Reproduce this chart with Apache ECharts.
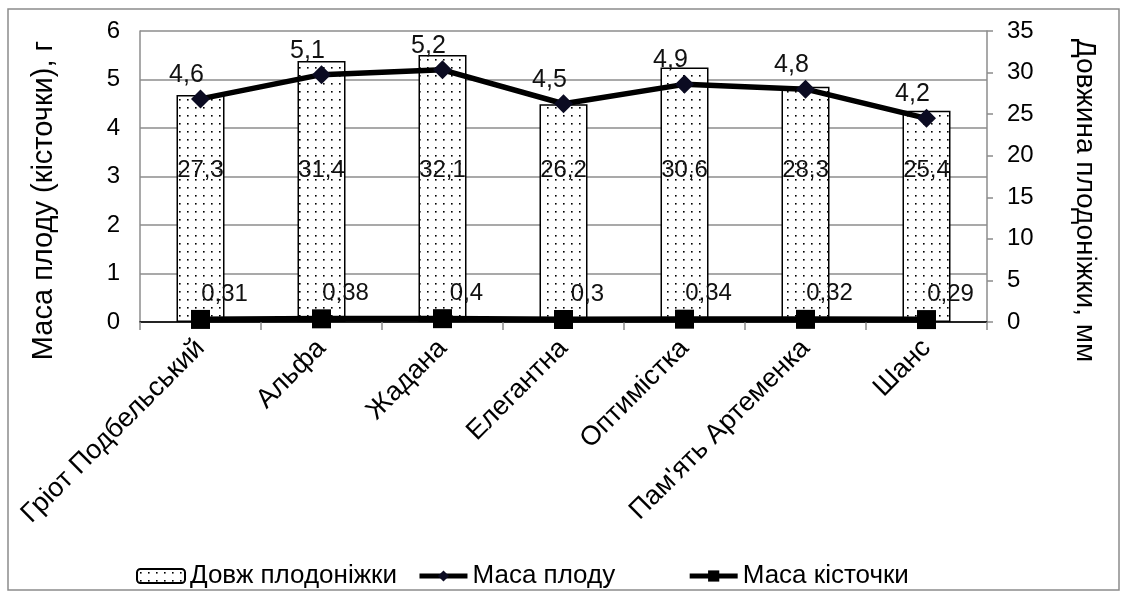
<!DOCTYPE html>
<html><head><meta charset="utf-8">
<script src="https://cdn.jsdelivr.net/npm/echarts@6/dist/echarts.min.js"></script>
<style>html,body{margin:0;padding:0;background:#fff}#c{width:1126px;height:594px}</style>
</head><body><div id="c"></div>
<script>
const categories = ['Гріот Подбельський','Альфа','Жадана','Елегантна','Оптимістка',"Пам'ять Артеменка",'Шанс'];
const stemLength = [27.3, 31.4, 32.1, 26.2, 30.6, 28.3, 25.4];
const fruitMass = [4.6, 5.1, 5.2, 4.5, 4.9, 4.8, 4.2];
const stoneMass = [0.31, 0.38, 0.4, 0.3, 0.34, 0.32, 0.29];
const seriesNames = ['Довж плодоніжки', 'Маса плоду', 'Маса кісточки'];
const leftTicks = {min: 0, max: 6, interval: 1};
const rightTicks = {min: 0, max: 35, interval: 5};

const pc = document.createElement('canvas');
pc.width = 8; pc.height = 8;
const g = pc.getContext('2d');
g.fillStyle = '#fff'; g.fillRect(0,0,8,8);
g.fillStyle = '#000'; g.fillRect(3,3,1.6,1.6);

const FONT = '"Liberation Sans", Arial, sans-serif';
const fmt = v => String(v).replace('.', ',');
const chart = echarts.init(document.getElementById('c'));
chart.setOption({
  animation: false,
  backgroundColor: '#fff',
  textStyle: {fontFamily: FONT, color: '#000'},
  graphic: [{type: 'rect', shape: {x: 8, y: 9, width: 1111, height: 581}, style: {fill: 'none', stroke: '#8c8c8c', lineWidth: 1.5}, z: -1}],
  grid: {left: 140, right: 139, top: 31, bottom: 272},
  legend: {
    bottom: 0, left: 131, itemWidth: 48, itemHeight: 14, itemGap: 20,
    textStyle: {fontSize: 26, fontFamily: FONT, color: '#000'},
    lineStyle: {width: 5},
    formatter: name => name === seriesNames[1] ? name + '\u2003\u2003' : name,
    data: seriesNames
  },
  xAxis: [{
    type: 'category', data: categories, boundaryGap: true,
    axisLine: {lineStyle: {color: '#8c8c8c', width: 1.5}},
    axisTick: {show: true, alignWithLabel: false, length: 8, lineStyle: {color: '#8c8c8c', width: 1.5}},
    axisLabel: {rotate: 45, fontSize: 27, color: '#000', margin: 22, interval: 0, fontFamily: FONT}
  }, {
    type: 'category', data: categories, position: 'top',
    axisLine: {lineStyle: {color: '#000', width: 1.5}},
    axisTick: {show: false}, axisLabel: {show: false}
  }],
  yAxis: [{
    type: 'value', min: leftTicks.min, max: leftTicks.max, interval: leftTicks.interval,
    name: 'Маса плоду (кісточки), г', nameLocation: 'middle', nameGap: 82, nameRotate: 90,
    nameTextStyle: {fontSize: 29, color: '#000', fontFamily: FONT, padding: [0, 48, 0, 0]},
    axisLine: {show: true, lineStyle: {color: '#8c8c8c', width: 1.5}},
    axisTick: {show: false},
    axisLabel: {fontSize: 24, color: '#000', margin: 20, fontFamily: FONT},
    splitLine: {lineStyle: {color: '#8c8c8c', width: 1.5}}
  }, {
    type: 'value', min: rightTicks.min, max: rightTicks.max, interval: rightTicks.interval,
    name: 'Довжина плодоніжки, мм', nameLocation: 'middle', nameGap: 84, nameRotate: -90,
    nameTextStyle: {fontSize: 28, color: '#000', fontFamily: FONT, padding: [0, 0, 0, 48]},
    axisLine: {show: true, lineStyle: {color: '#8c8c8c', width: 1.5}},
    axisTick: {show: true, length: 6, inside: false, lineStyle: {color: '#8c8c8c', width: 1.5}},
    axisLabel: {fontSize: 24, color: '#000', margin: 20, fontFamily: FONT},
    splitLine: {show: false}
  }],
  series: [{
    name: seriesNames[0], type: 'bar', yAxisIndex: 1, data: stemLength, barWidth: 48,
    itemStyle: {color: {image: pc, repeat: 'repeat'}, borderColor: '#000', borderWidth: 1.5},
    label: {show: true, position: 'insideBottom', distance: 140, fontSize: 24, color: '#111',
      fontFamily: FONT, formatter: p => fmt(p.value)},
    z: 2
  }, {
    name: seriesNames[1], type: 'line', yAxisIndex: 0, data: fruitMass,
    symbol: 'diamond', symbolSize: 19,
    lineStyle: {color: '#000', width: 5.5},
    itemStyle: {color: '#0b0b22'},
    label: {show: true, position: 'top', distance: 2, offset: [-14, 0], fontSize: 25, color: '#111',
      fontFamily: FONT, formatter: p => fmt(p.value)},
    z: 4
  }, {
    name: seriesNames[2], type: 'line', yAxisIndex: 1, data: stoneMass,
    symbol: 'rect', symbolSize: 19,
    lineStyle: {color: '#000', width: 6},
    itemStyle: {color: '#000'},
    label: {show: true, position: 'top', distance: 0, offset: [24, -4], fontSize: 24, color: '#111',
      fontFamily: FONT, formatter: p => fmt(p.value)},
    z: 5
  }]
});
</script></body></html>
